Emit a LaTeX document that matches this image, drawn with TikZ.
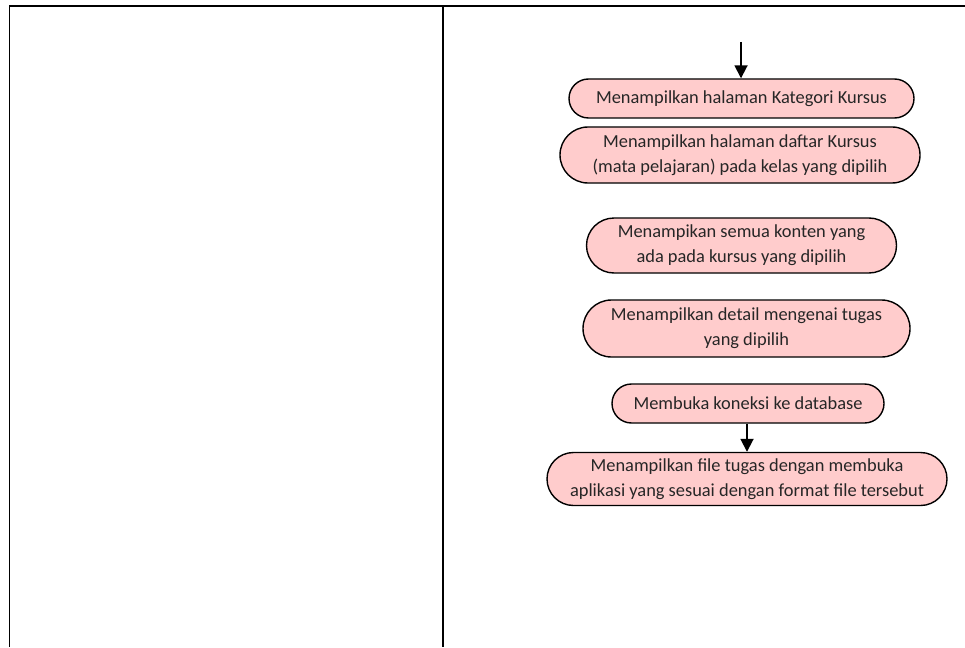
\documentclass[tikz,border=0pt]{standalone}
\usepackage{fontspec}
\setmainfont{Carlito}
\usetikzlibrary{shapes.misc,arrows.meta}
\definecolor{boxfill}{HTML}{FFCCCC}
\definecolor{boxtext}{HTML}{262626}
\begin{document}
\begin{tikzpicture}[x=1pt,y=-1pt,
  actbox/.style={rounded rectangle, draw=black, line width=1.4pt, fill=boxfill,
    text=boxtext, inner sep=0pt, align=center,
    font=\fontsize{18.4}{25}\selectfont},
  flow/.style={-{Triangle[length=13pt,width=13pt]}, line width=1.8pt},
  lane/.style={line width=1.6pt}]
\useasboundingbox (0,0) rectangle (965,647);
% swimlane frame
\coordinate (tl) at (9.5,6);
\coordinate (tr) at (965,6);
\coordinate (bl) at (9.5,647);
\coordinate (mt) at (443,6);
\coordinate (mb) at (443,647);
\draw[lane] (tr) -- (tl) -- (bl);
\draw[lane] (mt) -- (mb);
% activities
\node[actbox, minimum width=345pt, minimum height=39pt] (n1) at (741.5,98.5)
  {Menampilkan halaman Kategori Kursus};
\node[actbox, minimum width=360pt, minimum height=56pt] (n2) at (740,155)
  {Menampilkan halaman daftar Kursus\\(mata pelajaran) pada kelas yang dipilih};
\node[actbox, minimum width=310pt, minimum height=55pt] (n3) at (741.5,245.5)
  {Menampikan semua konten yang\\ada pada kursus yang dipilih};
\node[actbox, minimum width=327pt, minimum height=57pt] (n4) at (746.5,328.5)
  {Menampilkan detail mengenai tugas\\yang dipilih};
\node[actbox, minimum width=272pt, minimum height=39pt] (n5) at (748,403.5)
  {Membuka koneksi ke database};
\node[actbox, minimum width=400pt, minimum height=53pt] (n6) at (747,479)
  {Menampilkan file tugas dengan membuka\\aplikasi yang sesuai dengan format file tersebut};
% connectors
\coordinate (start) at (741,42);
\draw[flow] (start) -- (n1.north -| start);
\draw[flow] (n5.south -| 747,0) -- (n6.north -| 747,0);
\end{tikzpicture}
\end{document}
